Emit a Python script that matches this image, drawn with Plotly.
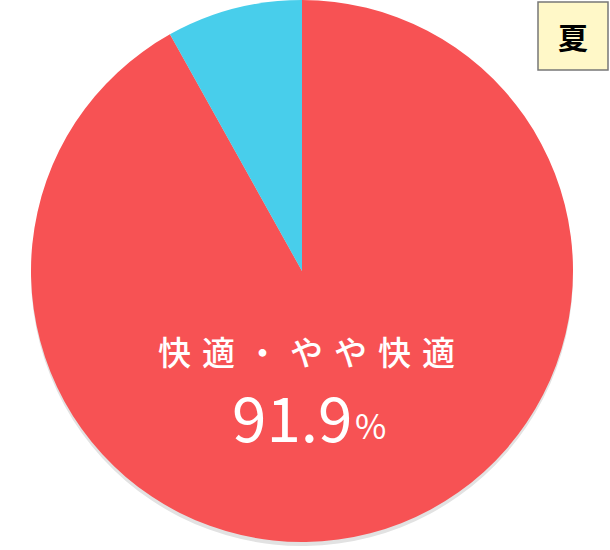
import plotly.graph_objects as go

# 夏の快適度
labels = ['快適・やや快適', 'その他']
values = [91.9, 8.1]
colors = ['#F75254', '#48CEEB']
season = '夏'

W, H = 610, 550

fig = go.Figure()

# 影(少し下にずらした灰色の円)
fig.add_trace(go.Pie(
    labels=labels, values=values, sort=False, direction='clockwise',
    marker=dict(colors=['#E2E2E2', '#E2E2E2']),
    textinfo='none', hoverinfo='skip', showlegend=False,
    domain=dict(x=[31 / W, 573 / W], y=[4 / H, 546 / H]),
))

fig.add_trace(go.Pie(
    labels=labels, values=values, sort=False, direction='clockwise',
    marker=dict(colors=colors, line=dict(width=0)),
    textinfo='none', showlegend=False,
    domain=dict(x=[31 / W, 573 / W], y=[8 / H, 550 / H]),
))

font = 'Noto Sans CJK JP, sans-serif'
fig.add_annotation(
    x=306 / W, y=1 - 351 / H, xref='paper', yref='paper', showarrow=False,
    xanchor='center', yanchor='middle', text='\u2004'.join(labels[0]),
    font=dict(family=font, size=33, color='white', weight=500),
)
fig.add_annotation(
    x=354 / W, y=1 - 415 / H, xref='paper', yref='paper', showarrow=False,
    xanchor='right', yanchor='middle', text=f'{values[0]}',
    font=dict(family=font, size=62, color='white'),
)
fig.add_annotation(
    x=353 / W, y=1 - 424 / H, xref='paper', yref='paper', showarrow=False,
    xanchor='left', yanchor='middle', text='%',
    font=dict(family=font, size=34, color='white'),
)

# 季節ラベル
fig.add_shape(
    type='rect', xref='paper', yref='paper',
    x0=538 / W, x1=608 / W, y0=1 - 70 / H, y1=1 - 2 / H,
    fillcolor='#FFF8C8', line=dict(color='#777777', width=1.5),
)
fig.add_annotation(
    x=573 / W, y=1 - 36 / H, xref='paper', yref='paper', showarrow=False,
    xanchor='center', yanchor='middle', text=f'<b>{season}</b>',
    font=dict(family=font, size=30, color='black'),
)

fig.update_layout(
    width=W, height=H,
    margin=dict(l=0, r=0, t=0, b=0),
    paper_bgcolor='white', plot_bgcolor='white',
)

fig.write_html('out.html', config={'displayModeBar': False},
               post_script="document.body.style.margin='0';")
